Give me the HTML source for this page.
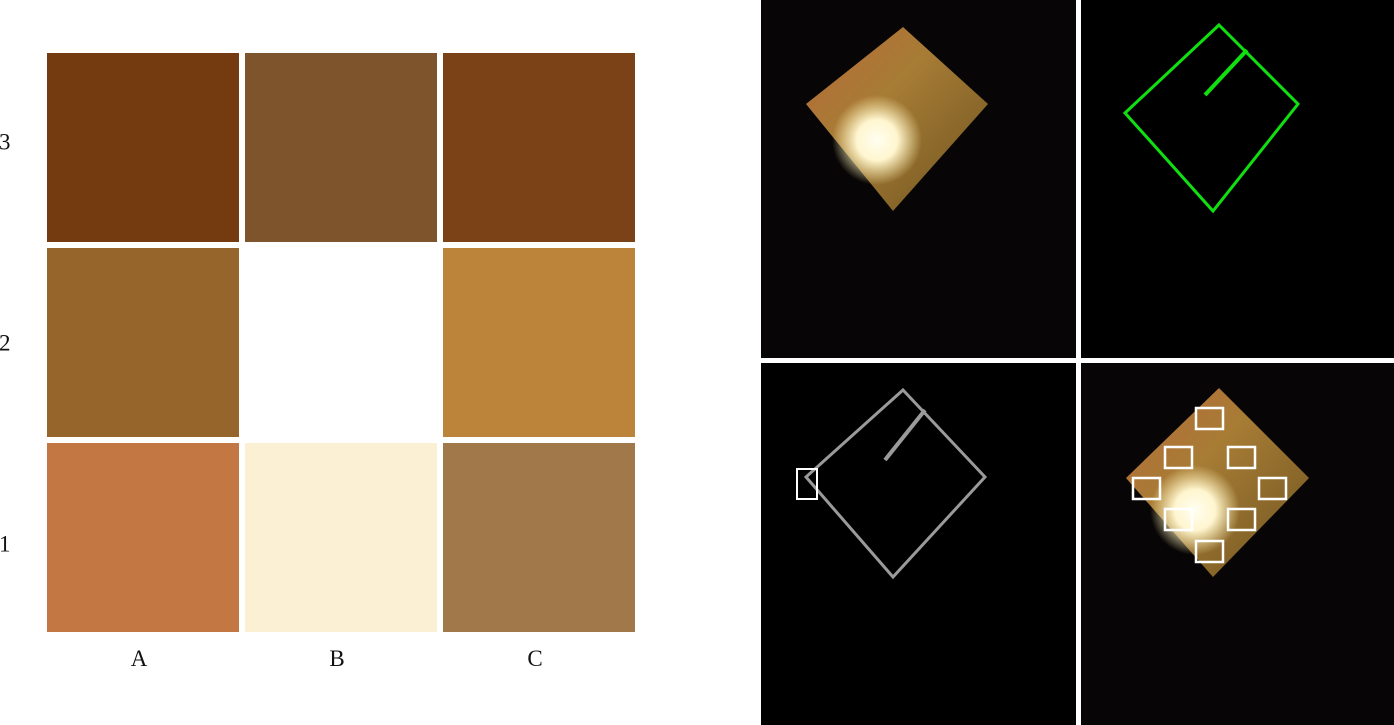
<!DOCTYPE html>
<html><head><meta charset="utf-8"><style>
html,body{margin:0;padding:0;background:#fff;width:1394px;height:725px;overflow:hidden}
svg{display:block}
text{font-family:"Liberation Serif",serif;font-size:23px;fill:#111}
</style></head><body>
<svg id="fig" width="1394" height="725">
<defs>
<radialGradient id="glow"><stop offset="0" stop-color="#fffef0"/><stop offset="0.45" stop-color="#fff6d0"/><stop offset="1" stop-color="#fff0b0" stop-opacity="0"/></radialGradient>
<linearGradient id="gold" x1="0" y1="0" x2="1" y2="1"><stop offset="0" stop-color="#b86a3a"/><stop offset="0.4" stop-color="#a77c35"/><stop offset="1" stop-color="#6e5420"/></linearGradient>
</defs>
<g id="heatmap"></g>
<g id="photos">
<rect x="761" y="0" width="633" height="725" fill="#fff"/>
<rect x="761" y="0" width="315" height="358" fill="#070505"/>
<rect x="1081" y="0" width="313" height="358" fill="#000"/>
<rect x="761" y="363" width="315" height="362" fill="#000"/>
<rect x="1081" y="363" width="313" height="362" fill="#070505"/>
<polygon points="903,27 988,104 893,211 806,104" fill="url(#gold)"/>
<circle cx="877" cy="140" r="45" fill="url(#glow)"/>
<polygon points="1219,25 1298,104 1213,211 1125,113" fill="none" stroke="#10e010" stroke-width="3"/>
<line x1="1247" y1="50" x2="1205" y2="95" stroke="#10e010" stroke-width="4"/>
<polygon points="903,390 985,477 893,577 806,477" fill="none" stroke="#9a9a9a" stroke-width="3"/>
<line x1="925" y1="410" x2="885" y2="460" stroke="#9a9a9a" stroke-width="4"/>
<rect x="797" y="469" width="20" height="30" fill="none" stroke="#fff" stroke-width="2"/>
<polygon points="1219,388 1309,478 1213,577 1126,478" fill="url(#gold)"/>
<circle cx="1195" cy="510" r="45" fill="url(#glow)"/>
<g id="boxes" fill="none" stroke="#fff" stroke-width="2.5">
<rect x="1196" y="408" width="27" height="21"/><rect x="1165" y="447" width="27" height="21"/><rect x="1228" y="447" width="27" height="21"/>
<rect x="1133" y="478" width="27" height="21"/><rect x="1259" y="478" width="27" height="21"/><rect x="1165" y="509" width="27" height="21"/>
<rect x="1228" y="509" width="27" height="21"/><rect x="1196" y="541" width="27" height="21"/>
</g>
</g>
</svg>
<script>
const cols = ["A","B","C"];
const rows = ["1","2","3"];
const cellColors = [
 ["#c37843","#fbf0d4","#a07849"],
 ["#95652c",null,"#bc843b"],
 ["#743b11","#7e542c","#7b4117"]
];
const NS="http://www.w3.org/2000/svg";
const g=document.getElementById('heatmap');
const x0=44, x1=638, y0=50, y1=635;
const cw=(x1-x0)/cols.length, ch=(y1-y0)/rows.length;
const xs=i=>x0+i*cw, ys=j=>y1-(j+1)*ch;
rows.forEach((r,j)=>{cols.forEach((c,i)=>{
  const col=cellColors[j][i]; if(!col) return;
  const rc=document.createElementNS(NS,'rect');
  rc.setAttribute('x',xs(i)+3);rc.setAttribute('y',ys(j)+3);
  rc.setAttribute('width',cw-6);rc.setAttribute('height',ch-6);
  rc.setAttribute('fill',col);
  
  
  g.appendChild(rc);
});});
cols.forEach((c,i)=>{
  const t=document.createElementNS(NS,'text');
  t.setAttribute('x',xs(i)+cw/2-4);t.setAttribute('y',666);t.setAttribute('text-anchor','middle');
  t.textContent=c;
  
  
  g.appendChild(t);
});
rows.forEach((r,j)=>{
  const t=document.createElementNS(NS,'text');
  t.setAttribute('x',-1);t.setAttribute('y',ys(j)+ch/2+8-(j-1)*6);
  t.textContent=r;
  
  
  g.appendChild(t);
});
</script>
</body></html>
